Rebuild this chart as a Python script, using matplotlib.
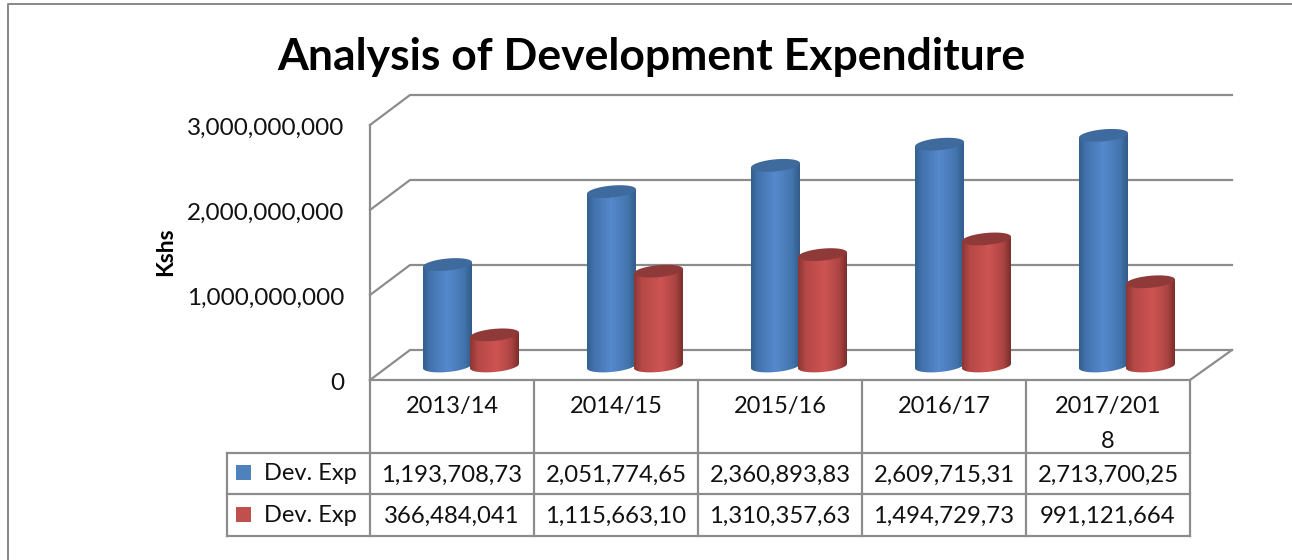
import numpy as np
import matplotlib
matplotlib.use("Agg")
import matplotlib.pyplot as plt
from matplotlib.patches import Polygon
from matplotlib.transforms import Affine2D
from matplotlib.colors import LinearSegmentedColormap

categories = ["2013/14", "2014/15", "2015/16", "2016/17", "2017/201\n8"]
blue_values = [1193708730, 2051774650, 2360893830, 2609715310, 2713700250]
red_values = [366484041, 1115663100, 1310357630, 1494729730, 991121664]
blue_labels = ["1,193,708,73", "2,051,774,65", "2,360,893,83", "2,609,715,31", "2,713,700,25"]
red_labels = ["366,484,041", "1,115,663,10", "1,310,357,63", "1,494,729,73", "991,121,664"]
series_names = ["Dev. Exp", "Dev. Exp"]
y_ticks = [0, 1000000000, 2000000000, 3000000000]

W, H = 1292, 560
X0, Y0 = 370, 380          # pixel position of the front corner of the floor
CAT_W, PX_PER_BN = 164, 85
DEPTH_X, DEPTH_Y = 40, 30
GRID = "#8c8c8c"
TEXT = "#111111"
plt.rcParams["font.family"] = ["Lato", "DejaVu Sans"]

fig = plt.figure(figsize=(W / 100, H / 100), dpi=100)
ax = fig.add_axes([0, 0, 1, 1])
x_left = -0.5 - X0 / CAT_W
y_bottom = -(H - Y0) / PX_PER_BN * 1e9
ax.set_xlim(x_left, x_left + W / CAT_W)
ax.set_ylim(y_bottom, y_bottom + H / PX_PER_BN * 1e9)
ax.axis("off")

# pixel coordinates, y going down, for the frame and the table
px = Affine2D().scale(1, -1).translate(0, H)


def line(xs, ys, lw=2.2, color=GRID, z=1):
    ax.plot(xs, ys, color=color, lw=lw * 0.72, transform=px, zorder=z, solid_capstyle="projecting", clip_on=False)


# outer frame
line([8, 8, W], [H, 4, 4], lw=2.0, color="#8a8a8a")

# walls and floor
for tick in y_ticks:
    y = Y0 - tick / 1e9 * PX_PER_BN
    line([X0, X0 + DEPTH_X, W - 60], [y, y - DEPTH_Y, y - DEPTH_Y])
    ax.text(344, y + 3, f"{tick:,}", transform=px, ha="right", va="center", fontsize=17.5, color=TEXT)
line([X0, X0], [Y0 - 3 * PX_PER_BN, Y0])
line([X0, X0 + 5 * CAT_W, W - 60], [Y0, Y0, Y0 - DEPTH_Y], z=1)

gradients = {
    "blue": LinearSegmentedColormap.from_list("b", [(0, "#34608f"), (0.13, "#4272ac"), (0.5, "#5689cd"),
                                                    (0.85, "#4274ad"), (1, "#345d8b")]),
    "red": LinearSegmentedColormap.from_list("r", [(0, "#8a3735"), (0.15, "#b54846"), (0.55, "#ce5452"),
                                                   (0.85, "#ac4442"), (1, "#7c2f2d")]),
}
top_colors = {"blue": "#3e6a9d", "red": "#8f3a38"}


def cylinder(center, value, key, z):
    half_w = 24.5 / CAT_W
    b = 6 * 1e9 / PX_PER_BN
    slope = 0.09 * CAT_W / PX_PER_BN * 1e9
    base = 14 / PX_PER_BN * 1e9
    t = np.linspace(0, 2 * np.pi, 121)
    ex = half_w * np.cos(t)
    ey = b * np.sin(t) + slope * ex
    top_y = base + value
    # side of the cylinder, from top left round the lower arc of the base
    low = np.linspace(np.pi, 2 * np.pi, 61)
    lx = half_w * np.cos(low)
    ly = b * np.sin(low) + slope * lx
    pts = np.vstack([
        [center - half_w, top_y - slope * half_w],
        np.column_stack([center + lx, base + ly]),
        [center + half_w, top_y + slope * half_w],
    ])
    side = Polygon(pts, closed=True, transform=ax.transData, facecolor="none", edgecolor="none", zorder=z)
    ax.add_patch(side)
    im = ax.imshow(np.linspace(0, 1, 64).reshape(1, -1), cmap=gradients[key], aspect="auto", zorder=z,
                   extent=[center - half_w, center + half_w, base - 2 * b - slope * half_w, top_y + slope * half_w + b])
    im.set_clip_path(side)
    ax.add_patch(Polygon(np.column_stack([center + ex, top_y + ey]), closed=True,
                         facecolor=top_colors[key], edgecolor="none", zorder=z + 0.1))


xlim, ylim = ax.get_xlim(), ax.get_ylim()
for i in range(len(categories)):
    cylinder(i - 4.5 / CAT_W, blue_values[i], "blue", 3 + i)
    cylinder(i + 42.5 / CAT_W, red_values[i], "red", 3.5 + i)
ax.set_xlim(xlim)
ax.set_ylim(ylim)

# data table
edges = [X0 + k * CAT_W for k in range(6)]
for x in edges:
    line([x, x], [Y0, 536])
line([227, 227], [453, 536])
for y in [453, 494, 536]:
    line([227, edges[-1]], [y, y])

for i, cat in enumerate(categories):
    cx = X0 + (i + 0.5) * CAT_W
    ax.text(cx, 396, cat, transform=px, ha="center", va="top", fontsize=17, color=TEXT, linespacing=1.8)
    ax.text(cx, 475, blue_labels[i], transform=px, ha="center", va="center", fontsize=17.2, color=TEXT)
    ax.text(cx, 516, red_labels[i], transform=px, ha="center", va="center", fontsize=17.2, color=TEXT)

for y, name, color in zip([473, 515], series_names, ["#4f81bd", "#c0504d"]):
    ax.add_patch(Polygon([[236, y - 8], [251, y - 8], [251, y + 7], [236, y + 7]], closed=True,
                         transform=px, facecolor=color, edgecolor="none", zorder=2))
    ax.text(264, y + 1, name, transform=px, ha="left", va="center", fontsize=17, color=TEXT)

ax.text(651, 57, "Analysis of Development Expenditure", transform=px, ha="center", va="center",
        fontsize=32, fontweight="bold", color="#000000")
ax.text(166, 252, "Kshs", transform=px, ha="center", va="center", rotation=90,
        fontsize=16.5, fontweight="bold", color="#000000")

fig.savefig("out.png", dpi=100)
